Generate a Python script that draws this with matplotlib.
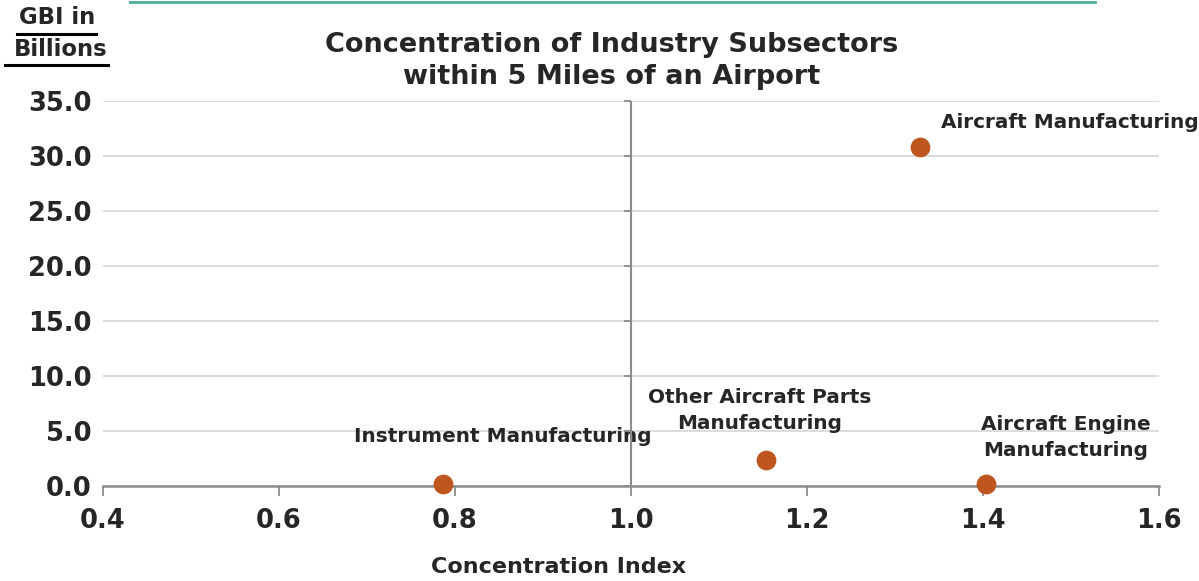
import matplotlib.pyplot as plt
from matplotlib.lines import Line2D
from matplotlib import markers
import matplotlib.ticker as mtick

# ==========================================================
# 1. Data
# ==========================================================
subsectors = [
    "Instrument Manufacturing",
    "Other Aircraft Parts\nManufacturing",
    "Aircraft Manufacturing",
    "Aircraft Engine\nManufacturing",
]
concentration_index = [0.786, 1.153, 1.328, 1.403]
gbi_billions = [0.2, 2.4, 30.8, 0.2]

# label offsets in pixels (dx, dy) and alignment
label_offsets = [(60, 47), (-6, 49), (21, 25), (80, 46)]
label_ha = ["center", "center", "left", "center"]

x_ticks = [0.4, 0.6, 0.8, 1.0, 1.2, 1.4, 1.6]
y_ticks = [0, 5, 10, 15, 20, 25, 30, 35]
y_axis_cross = 1.0

# ==========================================================
# 2. Figure
# ==========================================================
plt.rcParams["font.family"] = ["DejaVu Sans"]
plt.rcParams["font.weight"] = "bold"

fig = plt.figure(figsize=(11.99, 5.81), dpi=100)
ax = fig.add_axes([0.0859, 0.1635, 0.8807, 0.6627])

dot_color = "#bf561f"
text_color = "#262626"
axis_gray = "#8c8c8c"

ax.scatter(concentration_index, gbi_billions, s=175, color=dot_color,
           zorder=5, clip_on=False)

for name, x, y, off, ha in zip(subsectors, concentration_index, gbi_billions,
                               label_offsets, label_ha):
    ax.annotate(name, xy=(x, y), xytext=off, textcoords="offset pixels",
                ha=ha, va="center", fontsize=14.4, fontweight="bold",
                color=text_color, linespacing=1.45)

ax.set_xlim(0.4, 1.6)
ax.set_ylim(0, 35)
ax.set_xticks(x_ticks)
ax.set_yticks(y_ticks)
ax.xaxis.set_major_formatter(mtick.FormatStrFormatter("%.1f"))
ax.yaxis.set_major_formatter(mtick.FormatStrFormatter("%.1f"))

ax.grid(axis="y", color="#d9d9d9", linewidth=1.3)
ax.set_axisbelow(True)

for side in ["top", "right", "left"]:
    ax.spines[side].set_visible(False)
ax.spines["bottom"].set_color(axis_gray)
ax.spines["bottom"].set_linewidth(1.8)
ax.spines["bottom"].set_zorder(3)

ax.tick_params(axis="x", direction="out", length=7, width=1.3,
               color=axis_gray, labelsize=18.5, labelcolor=text_color, pad=9)
ax.tick_params(axis="y", length=0, labelsize=18.5, labelcolor=text_color,
               pad=8)

# vertical axis crossing at 1.0, with small tick marks
ax.axvline(y_axis_cross, color=axis_gray, linewidth=1.5, zorder=3)
ax.plot([y_axis_cross] * len(y_ticks), y_ticks, linestyle="none",
        marker=markers.TICKLEFT, markersize=5, markeredgewidth=1.3,
        color=axis_gray, zorder=3, clip_on=False)

for lab in ax.get_xticklabels() + ax.get_yticklabels():
    lab.set_fontweight("bold")

ax.set_xlabel("Concentration Index", fontsize=16, fontweight="bold",
              color=text_color, va="center")
ax.xaxis.set_label_coords((559 - 103) / 1056, -(567 - 486) / 385)

# ==========================================================
# 3. Title, y label, decoration
# ==========================================================
fig.text(612 / 1199, 1 - 61 / 581,
         "Concentration of Industry Subsectors\nwithin 5 Miles of an Airport",
         ha="center", va="center", fontsize=19.5, fontweight="bold",
         color=text_color, linespacing=1.25)

fig.text(57 / 1199, 1 - 18 / 581, "GBI in", ha="center", va="center",
         fontsize=16.4, fontweight="bold", color=text_color)
fig.text(61 / 1199, 1 - 49 / 581, "Billions", ha="center", va="center",
         fontsize=16.4, fontweight="bold", color=text_color)
fig.add_artist(Line2D([17 / 1199, 96 / 1199], [1 - 34 / 581, 1 - 34 / 581],
                      transform=fig.transFigure, color="black", linewidth=2.2))
fig.add_artist(Line2D([5 / 1199, 108 / 1199], [1 - 65 / 581, 1 - 65 / 581],
                      transform=fig.transFigure, color="black", linewidth=2.2))

# teal line at the top
fig.add_artist(Line2D([130 / 1199, 1095 / 1199], [1 - 1.5 / 581, 1 - 1.5 / 581],
                      transform=fig.transFigure, color="#4aae9b", linewidth=2))

fig.savefig("out.png", dpi=100, facecolor="white")
